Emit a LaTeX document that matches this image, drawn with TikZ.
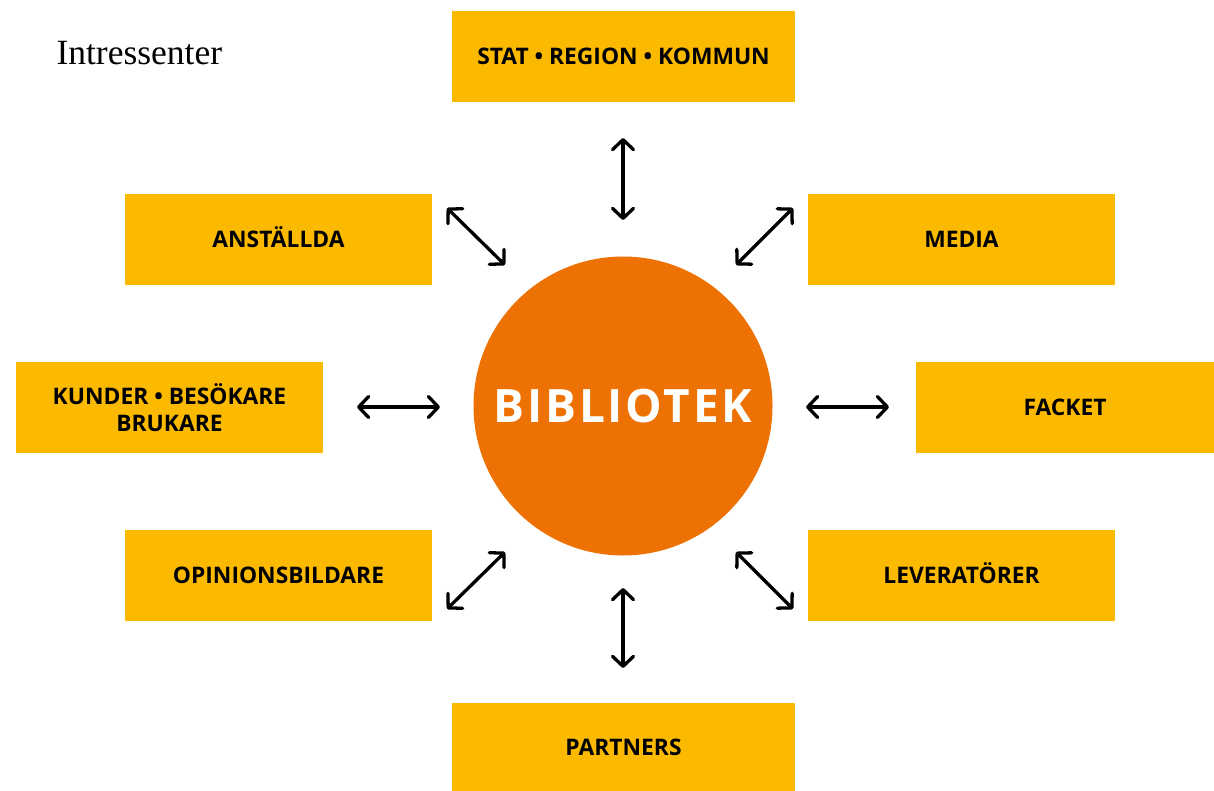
\documentclass[tikz,border=0pt]{standalone}
\usepackage{fontspec}
\setmainfont{Liberation Serif}
\newfontfamily\boxfont{Open Sans}
\newfontfamily\bibfont{Open Sans}[LetterSpace=6]
\usetikzlibrary{arrows.meta}
\definecolor{gul}{RGB}{251,186,0}
\definecolor{bibcol}{RGB}{238,114,3}
\begin{document}
\begin{tikzpicture}[x=1pt,y=-1pt]
\tikzstyle{box}=[fill=gul,minimum height=91pt,inner sep=0pt,align=center,font=\boxfont\bfseries\fontsize{22.8}{27}\selectfont]
\tikzstyle{caps}=[text height=16.5pt,text depth=0pt]
\tikzstyle{link}=[{Straight Barb[length=10pt,width=21pt,round]}-{Straight Barb[length=10pt,width=21pt,round]},line width=3.3pt]
\useasboundingbox (0,0) rectangle (1214,791);

\node[anchor=base west,font=\fontsize{35.5}{40}\selectfont] at (53,65) (title) {Intressenter};

\node[circle,fill=bibcol,minimum size=299pt,inner sep=0pt,text=white,font=\bibfont\bfseries\fontsize{46}{50}\selectfont] at (623,406) (bib) {BIBLIOTEK};

\node[box,caps,minimum width=343pt] at (623.5,56.5) (stat) {STAT • REGION • KOMMUN};
\node[box,caps,minimum width=307pt] at (278.5,239.5) (anst) {ANSTÄLLDA};
\node[box,caps,minimum width=307pt] at (961.5,239.5) (media) {MEDIA};
\node[box,minimum width=307pt] at (169.5,407.5) (kund) {KUNDER • BESÖKARE\\BRUKARE};
\node[box,caps,minimum width=298pt] at (1065,407.5) (fack) {FACKET};
\node[box,caps,minimum width=307pt] at (278.5,575.5) (opin) {OPINIONSBILDARE};
\node[box,caps,minimum width=307pt] at (961.5,575.5) (lev) {LEVERATÖRER};
\node[box,caps,minimum width=343pt,minimum height=88pt] at (623.5,747) (part) {PARTNERS};

\coordinate (a1) at (623,138);
\coordinate (b1) at (623,220);
\coordinate (a2) at (447,208);
\coordinate (b2) at (505,265);
\coordinate (a3) at (793,208);
\coordinate (b3) at (736,265);
\coordinate (a4) at (357,407);
\coordinate (b4) at (440,407);
\coordinate (a5) at (889,407);
\coordinate (b5) at (806,407);
\coordinate (a6) at (447,609);
\coordinate (b6) at (505,552);
\coordinate (a7) at (793,609);
\coordinate (b7) at (736,552);
\coordinate (a8) at (623,668);
\coordinate (b8) at (623,588);

\draw[link] (a1) -- (b1);
\draw[link] (a2) -- (b2);
\draw[link] (a3) -- (b3);
\draw[link] (a4) -- (b4);
\draw[link] (a5) -- (b5);
\draw[link] (a6) -- (b6);
\draw[link] (a7) -- (b7);
\draw[link] (a8) -- (b8);
\end{tikzpicture}
\end{document}
